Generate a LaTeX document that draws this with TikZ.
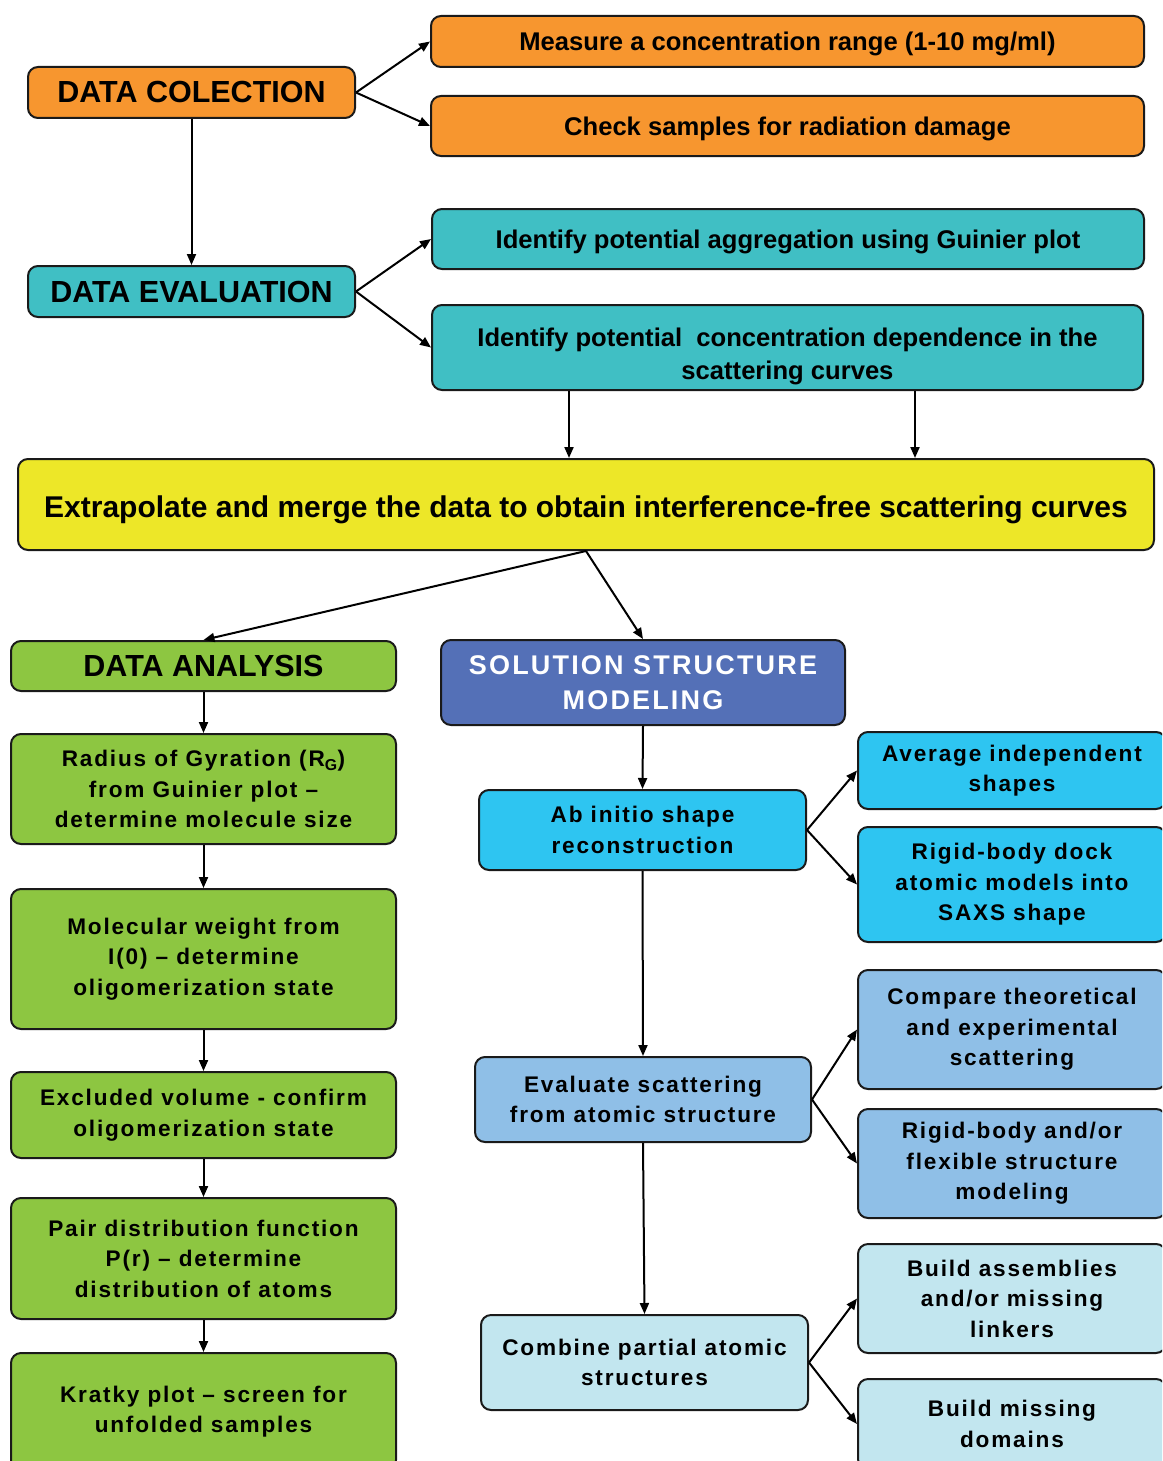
\documentclass[tikz,border=0pt]{standalone}
\usepackage{fontspec}
\setmainfont{Liberation Sans}
\newfontfamily\spacedfont[LetterSpace=8]{Liberation Sans}
\usetikzlibrary{arrows.meta}

\definecolor{cOrange}{HTML}{F7962F}
\definecolor{cTeal}{HTML}{40BFC4}
\definecolor{cYellow}{HTML}{EDE728}
\definecolor{cGreen}{HTML}{8DC641}
\definecolor{cBlue}{HTML}{5470B7}
\definecolor{cCyan}{HTML}{2EC5F1}
\definecolor{cLight}{HTML}{8FBFE7}
\definecolor{cPale}{HTML}{C2E6EF}
\definecolor{cEdge}{HTML}{1A1A1A}

\tikzset{
  box/.style={draw=cEdge, line width=2pt, rounded corners=10pt, rectangle,
    align=center, inner sep=0pt, font=\bfseries},
  headf/.style={font=\fontsize{30.5}{34}\selectfont\bfseries},
  topf/.style={font=\fontsize{25.6}{33}\selectfont\bfseries},
  oneline/.style={text height=18.5pt, text depth=0pt},
  lowf/.style={font=\spacedfont\fontsize{22.6}{30.5}\selectfont\bfseries},
  link/.style={draw=black, line width=2pt, -{Triangle[length=11pt,width=9pt]}},
}

\begin{document}
\begin{tikzpicture}[x=1pt, y=-1pt]
\useasboundingbox (0,0) rectangle (1162,1461);
\clip (0,0) rectangle (1162,1461);

% --- data collection and evaluation ---
\node[box, headf, fill=cOrange, minimum width=327, minimum height=51] (col) at (191.5,92.5) {DATA COLECTION};
\node[box, topf, oneline, fill=cOrange, minimum width=713, minimum height=51] (meas) at (787.5,41.5) {Measure a concentration range (1-10 mg/ml)};
\node[box, topf, oneline, fill=cOrange, minimum width=713, minimum height=60] (check) at (787.5,126) {Check samples for radiation damage};

\node[box, headf, fill=cTeal, minimum width=327, minimum height=51] (eval) at (191.5,291.5) {DATA EVALUATION};
\node[box, topf, oneline, fill=cTeal, minimum width=712, minimum height=60] (aggr) at (788,239) {Identify potential aggregation using Guinier plot};
\node[box, topf, fill=cTeal, minimum width=711, minimum height=85] (conc) at (787.5,347.5) {\rule{0pt}{37pt}Identify potential\ \ concentration dependence in the\\scattering curves};

\node[box, fill=cYellow, minimum width=1136, minimum height=91, text height=26pt, text depth=0pt,
  font=\fontsize{30}{33}\selectfont\bfseries] (extr) at (586,504.5) {Extrapolate and merge the data to obtain interference-free scattering curves};

% --- data analysis column ---
\node[box, headf, fill=cGreen, minimum width=385, minimum height=50] (ana) at (203.5,666) {DATA ANALYSIS};
\node[box, lowf, fill=cGreen, minimum width=385, minimum height=110] (rad) at (203.5,789) {Radius of Gyration (R\textsubscript{G})\\from Guinier plot –\\determine molecule size};
\node[box, lowf, fill=cGreen, minimum width=385, minimum height=140] (mw) at (203.5,959) {Molecular weight from\\I(0) – determine\\oligomerization state};
\node[box, lowf, fill=cGreen, minimum width=385, minimum height=86] (exc) at (203.5,1115) {Excluded volume - confirm\\oligomerization state};
\node[box, lowf, fill=cGreen, minimum width=385, minimum height=121] (pair) at (203.5,1258.5) {Pair distribution function\\P(r) – determine\\distribution of atoms};
\node[box, lowf, fill=cGreen, minimum width=385, minimum height=117] (krat) at (203.5,1411.5) {Kratky plot – screen for\\unfolded samples};

% --- modeling column ---
\node[box, fill=cBlue, minimum width=404, minimum height=85, text=white,
  font=\spacedfont\fontsize{27}{35}\selectfont\bfseries] (sol) at (643,682.5) {SOLUTION STRUCTURE\\MODELING};
\node[box, lowf, fill=cCyan, minimum width=327, minimum height=80] (abin) at (642.5,830) {Ab initio shape\\reconstruction};
\node[box, lowf, fill=cLight, minimum width=336, minimum height=85] (eva) at (643,1099.5) {Evaluate scattering\\from atomic structure};
\node[box, lowf, fill=cPale, minimum width=327, minimum height=95] (comb) at (644.5,1362.5) {Combine partial atomic\\structures};

% --- outcome boxes on the right ---
\node[box, lowf, fill=cCyan, minimum width=308, minimum height=77] (avg) at (1012,770.5) {Average independent\\shapes};
\node[box, lowf, fill=cCyan, minimum width=308, minimum height=115] (dock) at (1012,884.5) {Rigid-body dock\\atomic models into\\SAXS shape};
\node[box, lowf, fill=cLight, minimum width=308, minimum height=119] (cmp) at (1012,1029.5) {Compare theoretical\\and experimental\\scattering};
\node[box, lowf, fill=cLight, minimum width=308, minimum height=109] (rig) at (1012,1163.5) {Rigid-body and/or\\flexible structure\\modeling};
\node[box, lowf, fill=cPale, minimum width=308, minimum height=109] (bas) at (1012,1298.5) {Build assemblies\\and/or missing\\linkers};
\node[box, lowf, fill=cPale, minimum width=308, minimum height=90] (bmd) at (1012,1424) {Build missing\\domains};

% --- connectors ---
\coordinate (dl) at (569,0);
\coordinate (dr) at (915,0);

\draw[link] (col.south) -- (eval.north);
\draw[link] (col.east) -- (meas.west);
\draw[link] (col.east) -- (check.west);
\draw[link] (eval.east) -- (aggr.west);
\draw[link] (eval.east) -- (conc.west);
\draw[link] (conc.south -| dl) -- (extr.north -| dl);
\draw[link] (conc.south -| dr) -- (extr.north -| dr);
\draw[link] (extr.south) -- (ana.north);
\draw[link] (extr.south) -- (sol.north);

\draw[link] (ana.south) -- (rad.north);
\draw[link] (rad.south) -- (mw.north);
\draw[link] (mw.south) -- (exc.north);
\draw[link] (exc.south) -- (pair.north);
\draw[link] (pair.south) -- (krat.north);

\draw[link] (sol.south) -- (abin.north);
\draw[link] (abin.south) -- (eva.north);
\draw[link] (eva.south) -- (comb.north);

\draw[link] (abin.east) -- (avg.west);
\draw[link] (abin.east) -- (dock.west);
\draw[link] (eva.east) -- (cmp.west);
\draw[link] (eva.east) -- (rig.west);
\draw[link] (comb.east) -- (bas.west);
\draw[link] (comb.east) -- (bmd.west);
\end{tikzpicture}
\end{document}
